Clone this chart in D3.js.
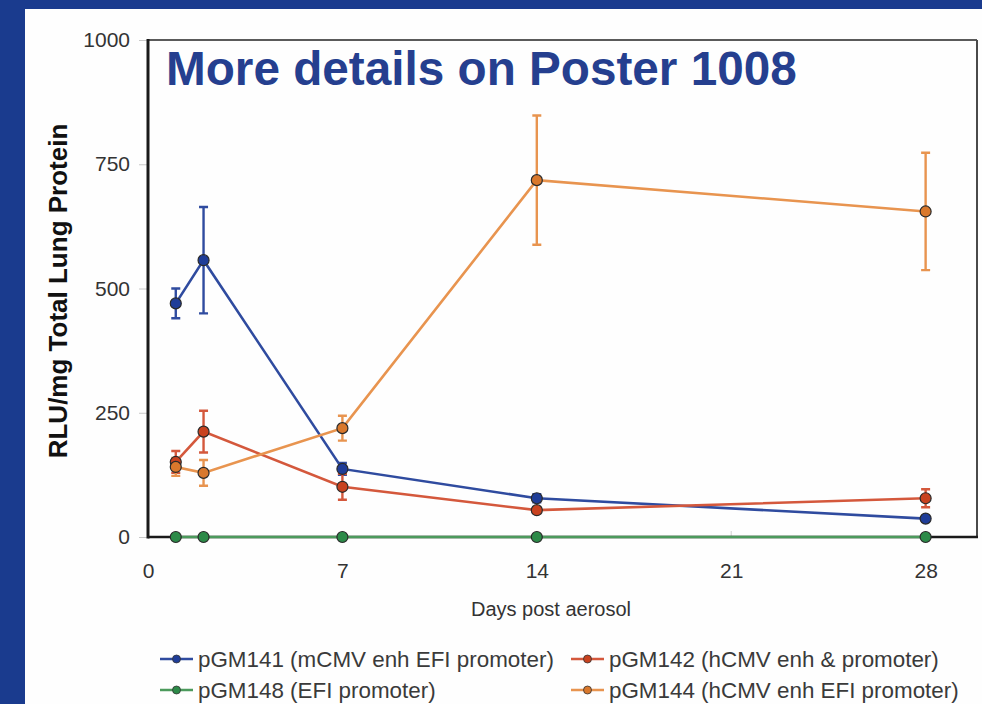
<!DOCTYPE html>
<html>
<head>
<meta charset="utf-8">
<script src="https://cdn.jsdelivr.net/npm/d3@7"></script>
<style>
  body { margin: 0; background: #ffffff; }
  svg { display: block; font-family: "Liberation Sans", Arial, sans-serif; }
</style>
</head>
<body>
<div id="chart"></div>
<script>
// data
let days = [1, 2, 7, 14, 28];
let xTicks = [0, 7, 14, 21, 28];
let yTicks = [0, 250, 500, 750, 1000];

let pGM141 = [470, 557, 137, 78, 37];
let pGM141Err = [30, 107, 12, 8, 5];
let pGM142 = [151, 212, 101, 54, 78];
let pGM142Err = [22, 42, 26, 6, 18];
let pGM144 = [141, 129, 219, 718, 655];
let pGM144Err = [18, 26, 25, 130, 118];
let pGM148 = [0, 0, 0, 0, 0];
let pGM148Err = [0, 0, 0, 0, 0];

let seriesNames = [
    'pGM141 (mCMV enh EFI promoter)',
    'pGM142 (hCMV enh & promoter)',
    'pGM148 (EFI promoter)',
    'pGM144 (hCMV enh EFI promoter)'
];
let lineColors = ['#2f4b9f', '#d4583c', '#4c9a5c', '#e8944f'];
let dotColors = ['#1f3d98', '#c8421f', '#2c8a48', '#d9782c'];

let series = [
    { name: seriesNames[0], v: pGM141, e: pGM141Err, c: lineColors[0], d: dotColors[0] },
    { name: seriesNames[1], v: pGM142, e: pGM142Err, c: lineColors[1], d: dotColors[1] },
    { name: seriesNames[2], v: pGM148, e: pGM148Err, c: lineColors[2], d: dotColors[2] },
    { name: seriesNames[3], v: pGM144, e: pGM144Err, c: lineColors[3], d: dotColors[3] }
];

let W = 982, H = 704;
let svg = d3.select('#chart').append('svg')
    .attr('width', W)
    .attr('height', H);

// blue slide frame + white panel
svg.append('rect').attr('width', W).attr('height', H).attr('fill', '#1a3b8e');
svg.append('rect').attr('x', 25).attr('y', 9).attr('width', W - 25).attr('height', H - 9).attr('fill', '#fefefe');

let x = d3.scaleLinear().domain([0, 29.85]).range([148, 977]);
let y = d3.scaleLinear().domain([0, 1000]).range([537, 40]);

// frame top / right
svg.append('line')
    .attr('x1', x(0)).attr('x2', x(29.85))
    .attr('y1', y(1000)).attr('y2', y(1000))
    .attr('stroke', '#5a5a5a').attr('stroke-width', 2.2);
svg.append('line')
    .attr('x1', x(29.85)).attr('x2', x(29.85))
    .attr('y1', y(1000)).attr('y2', y(0))
    .attr('stroke', '#4a4a4a').attr('stroke-width', 2);

// y axis
let yAxis = svg.append('g')
    .attr('transform', 'translate(' + x(0) + ',0)')
    .call(d3.axisLeft(y).tickValues(yTicks).tickSize(9).tickPadding(9).tickFormat(d3.format('d')));
yAxis.select('.domain').remove();
yAxis.selectAll('.tick line').attr('stroke', '#c8c8c8');
yAxis.selectAll('.tick text')
    .attr('font-size', 21)
    .attr('font-family', '"Liberation Sans", Arial, sans-serif')
    .attr('fill', '#333');

// x axis
let xAxis = svg.append('g')
    .attr('transform', 'translate(0,' + y(0) + ')')
    .call(d3.axisBottom(x).tickValues(xTicks).tickSize(0).tickPadding(26));
xAxis.select('.domain').remove();
xAxis.selectAll('.tick text')
    .attr('font-size', 21)
    .attr('font-family', '"Liberation Sans", Arial, sans-serif')
    .attr('fill', '#333');
// small inner tick marks
svg.selectAll('.xtick').data(xTicks.slice(1)).enter().append('line')
    .attr('x1', d => x(d)).attr('x2', d => x(d))
    .attr('y1', y(0)).attr('y2', y(0) - 6)
    .attr('stroke', '#d0d0d0').attr('stroke-width', 1);

// axis lines
svg.append('line')
    .attr('x1', x(0)).attr('x2', x(0))
    .attr('y1', y(1000) - 1).attr('y2', y(0) + 1.5)
    .attr('stroke', '#1a1a1a').attr('stroke-width', 3);
svg.append('line')
    .attr('x1', x(0)).attr('x2', x(29.85) + 1)
    .attr('y1', y(0)).attr('y2', y(0))
    .attr('stroke', '#1a1a1a').attr('stroke-width', 2.5);

// axis titles
svg.append('text')
    .attr('transform', 'translate(67,291) rotate(-90)')
    .attr('text-anchor', 'middle')
    .attr('font-size', 26)
    .attr('font-weight', 'bold')
    .attr('fill', '#111')
    .text('RLU/mg Total Lung Protein');
svg.append('text')
    .attr('x', 551).attr('y', 616)
    .attr('text-anchor', 'middle')
    .attr('font-size', 20)
    .attr('fill', '#333')
    .text('Days post aerosol');

// title overlay
svg.append('text')
    .attr('x', 166).attr('y', 85)
    .attr('font-size', 47.7)
    .attr('font-weight', 'bold')
    .attr('fill', '#253f8f')
    .text('More details on Poster 1008');

let line = d3.line()
    .x((d, i) => x(days[i]))
    .y(d => y(d));

// lines
series.forEach(function (s) {
    svg.append('path')
        .attr('d', line(s.v))
        .attr('fill', 'none')
        .attr('stroke', s.c)
        .attr('stroke-width', 2.6);
});

// error bars with caps
series.forEach(function (s) {
    let pts = s.v.map((v, i) => ({ day: days[i], v: v, e: s.e[i] })).filter(p => p.e > 0);
    svg.append('g').selectAll('path').data(pts).enter().append('path')
        .attr('d', p => 'M' + (x(p.day) - 4.5) + ',' + y(p.v + p.e) + 'h9' +
                        'M' + (x(p.day) - 4.5) + ',' + y(p.v - p.e) + 'h9' +
                        'M' + x(p.day) + ',' + y(p.v + p.e) + 'V' + y(p.v - p.e))
        .attr('fill', 'none')
        .attr('stroke', s.c)
        .attr('stroke-width', 2.4);
});

// markers
series.forEach(function (s) {
    svg.append('g').selectAll('circle').data(s.v).enter().append('circle')
        .attr('cx', (d, i) => x(days[i]))
        .attr('cy', d => y(d))
        .attr('r', 5.5)
        .attr('fill', s.d)
        .attr('stroke', '#2a2a2a')
        .attr('stroke-width', 1.2);
});

// legend
let legendPos = [
    { lx: 160, ly: 659 },
    { lx: 571, ly: 659 },
    { lx: 160, ly: 690 },
    { lx: 571, ly: 690 }
];
let leg = svg.selectAll('.leg').data(series).enter().append('g')
    .attr('transform', (d, i) => 'translate(' + legendPos[i].lx + ',' + legendPos[i].ly + ')');
leg.append('line')
    .attr('x1', 0).attr('x2', 33).attr('y1', 0).attr('y2', 0)
    .attr('stroke', d => d.c).attr('stroke-width', 2.4);
leg.append('circle')
    .attr('cx', 16.5).attr('cy', 0).attr('r', 4)
    .attr('fill', d => d.d).attr('stroke', '#333').attr('stroke-width', 0.8);
leg.append('text')
    .attr('x', 38).attr('y', 7.5)
    .attr('font-size', 22.4)
    .attr('fill', '#3a3a3a')
    .text(d => d.name);
</script>
</body>
</html>
